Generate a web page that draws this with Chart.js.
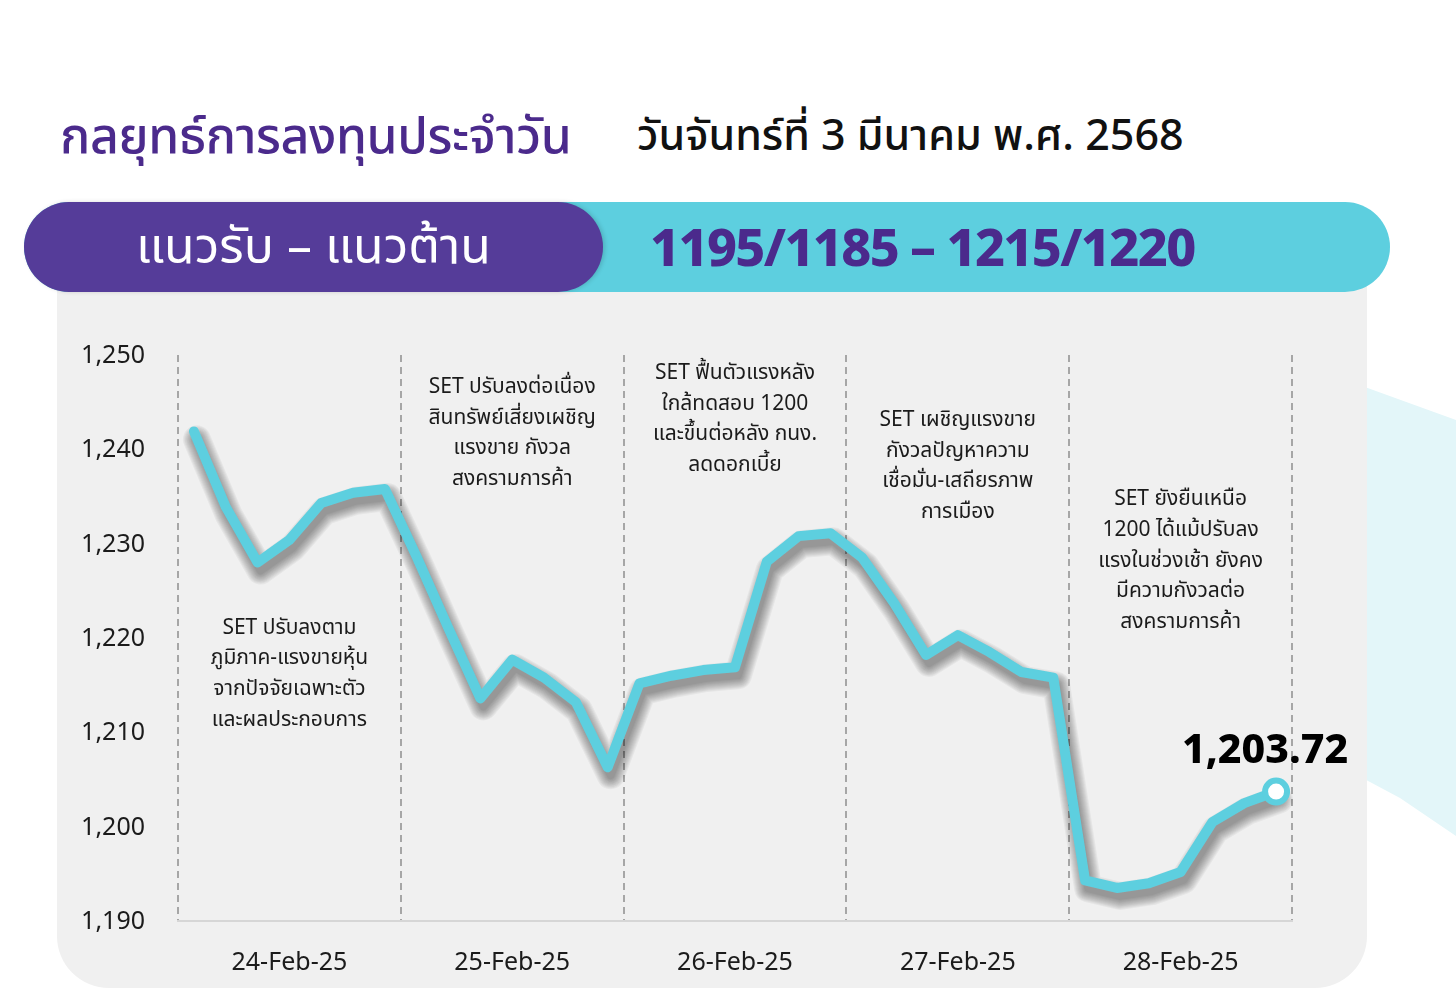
<!DOCTYPE html>
<html lang="th">
<head>
<meta charset="utf-8">
<title>กลยุทธ์การลงทุนประจำวัน</title>
<script src="https://cdn.jsdelivr.net/npm/chart.js@4.4.1/dist/chart.umd.min.js"></script>
<style>
  html, body { margin: 0; padding: 0; }
  body {
    width: 1456px; height: 1008px; position: relative; overflow: hidden;
    background: #ffffff;
    font-family: "Noto Sans Thai", "Noto Sans", "DejaVu Sans", sans-serif;
  }
  #deco {
    position: absolute; left: 1340px; top: 378px; width: 116px; height: 462px;
    background: #E3F6F9;
    clip-path: polygon(0 0, 116px 42px, 116px 458px, 60px 420px, 0 388px);
  }
  #title {
    position: absolute; left: 60px; top: 100px;
    font-size: 50px; color: #4B2A8C; font-weight: 500; white-space: nowrap;
    letter-spacing: -0.4px;
  }
  #date {
    position: absolute; left: 637px; top: 104px;
    font-size: 43px; color: #111; font-weight: 500; white-space: nowrap;
  }
  #panel {
    position: absolute; left: 57px; top: 250px; width: 1310px; height: 738px;
    background: #F0F0F0; border-radius: 0 0 52px 52px;
  }
  #banner {
    position: absolute; left: 24px; top: 202px; width: 1366px; height: 90px;
    background: #5DCFDF; border-radius: 45px;
  }
  #bannerLeft {
    position: absolute; left: 0; top: 0; width: 579px; height: 90px;
    background: #553C99; border-radius: 45px;
    color: #fff; font-size: 50px; line-height: 92px; text-align: center;
    box-shadow: 2px 0 4px rgba(0,0,0,0.15);
  }
  #bannerRight {
    position: absolute; left: 626px; top: 0; height: 90px;
    color: #4B2A8C; font-size: 52px; font-weight: 800; line-height: 96px;
    letter-spacing: -1.6px; white-space: nowrap;
  }
  #wrap { position: absolute; left: 57px; top: 300px; width: 1310px; height: 688px; }
</style>
</head>
<body>
<div id="deco"></div>
<div id="panel"></div>
<div id="banner">
  <div id="bannerLeft">แนวรับ – แนวต้าน</div>
  <div id="bannerRight">1195/1185 – 1215/1220</div>
</div>
<div id="title">กลยุทธ์การลงทุนประจำวัน</div>
<div id="date">วันจันทร์ที่ 3 มีนาคม พ.ศ. 2568</div>
<div id="wrap"><canvas id="setChart"></canvas></div>

<script>
// SET index, 7 readings per trading day
var days = ['24-Feb-25', '25-Feb-25', '26-Feb-25', '27-Feb-25', '28-Feb-25'];
var feb24 = [1241.9, 1233.9, 1228.0, 1230.4, 1234.3, 1235.4, 1235.8];
var feb25 = [1228.6, 1221.0, 1213.6, 1217.7, 1215.8, 1213.2, 1206.3];
var feb26 = [1215.2, 1216.0, 1216.6, 1216.9, 1228.1, 1230.8, 1231.1];
var feb27 = [1228.5, 1223.7, 1218.2, 1220.3, 1218.5, 1216.4, 1215.8];
var feb28 = [1194.3, 1193.5, 1194.0, 1195.2, 1200.5, 1202.5, 1203.72];
var yTicks = [1190, 1200, 1210, 1220, 1230, 1240, 1250];
var notes = [
    ['SET ปรับลงตาม', 'ภูมิภาค-แรงขายหุ้น', 'จากปัจจัยเฉพาะตัว', 'และผลประกอบการ'],
    ['SET ปรับลงต่อเนื่อง', 'สินทรัพย์เสี่ยงเผชิญ', 'แรงขาย กังวล', 'สงครามการค้า'],
    ['SET ฟื้นตัวแรงหลัง', 'ใกล้ทดสอบ 1200', 'และขึ้นต่อหลัง กนง.', 'ลดดอกเบี้ย'],
    ['SET เผชิญแรงขาย', 'กังวลปัญหาความ', 'เชื่อมั่น-เสถียรภาพ', 'การเมือง'],
    ['SET ยังยืนเหนือ', '1200 ได้แม้ปรับลง', 'แรงในช่วงเช้า ยังคง', 'มีความกังวลต่อ', 'สงครามการค้า']
];

var perDay = feb24.length;
var allValues = feb24.concat(feb25, feb26, feb27, feb28);
var points = allValues.map(function (v, i) { return { x: i + 0.5, y: v }; });
var lastIdx = points.length - 1;

var FONT = '"Noto Sans Thai", "Noto Sans", "DejaVu Sans", sans-serif';
var CYAN = '#5DCFDF';

// where each note's first line sits (in index units)
var noteTop = [1220.9, 1246.4, 1247.9, 1242.9, 1234.5];

// soft drop shadow under the line, built from the line's own point elements
var shadowPlugin = {
    id: 'lineShadow',
    beforeDatasetDraw: function (chart, args) {
        var c = chart.ctx;
        var pts = args.meta.data;
        c.save();
        c.lineJoin = 'round';
        c.lineCap = 'round';
        c.strokeStyle = 'rgba(0,0,0,0.045)';
        for (var w = 28; w >= 8; w -= 2) {
            c.lineWidth = w;
            c.beginPath();
            pts.forEach(function (p, i) {
                if (i === 0) c.moveTo(p.x + 3, p.y + 8);
                else c.lineTo(p.x + 3, p.y + 8);
            });
            c.stroke();
        }
        c.restore();
    }
};

var notesPlugin = {
    id: 'notes',
    afterDatasetsDraw: function (chart) {
        var c = chart.ctx;
        var xs = chart.scales.x, ys = chart.scales.y;
        c.save();
        c.fillStyle = '#1b1b1b';
        c.font = '21px ' + FONT;
        c.textAlign = 'center';
        c.textBaseline = 'middle';
        notes.forEach(function (lines, d) {
            var cx = xs.getPixelForValue(d * perDay + perDay / 2);
            var top = ys.getPixelForValue(noteTop[d]);
            lines.forEach(function (t, k) { c.fillText(t, cx, top + k * 30.6); });
        });
        // last close label
        var el = chart.getDatasetMeta(0).data[lastIdx];
        c.fillStyle = '#000';
        c.font = '800 41px ' + FONT;
        c.textBaseline = 'alphabetic';
        c.fillText(allValues[lastIdx].toLocaleString('en-US', { minimumFractionDigits: 2 }), el.x - 11, el.y - 29);
        c.restore();
    }
};

var ctx = document.getElementById('setChart').getContext('2d');
var setChart = new Chart(ctx, {
    type: 'line',
    data: {
        datasets: [{
            data: points,
            borderColor: CYAN,
            borderWidth: 10,
            borderJoinStyle: 'round',
            borderCapStyle: 'round',
            tension: 0,
            pointRadius: function (c) { return c.dataIndex === lastIdx ? 11 : 0; },
            pointBackgroundColor: '#ffffff',
            pointBorderColor: CYAN,
            pointBorderWidth: 6
        }]
    },
    plugins: [shadowPlugin, notesPlugin],
    options: {
        responsive: true,
        maintainAspectRatio: false,
        animation: false,
        layout: { padding: { left: 0, right: 75, top: 55, bottom: 0 } },
        plugins: { legend: { display: false }, tooltip: { enabled: false } },
        scales: {
            x: {
                type: 'linear',
                min: 0,
                max: days.length * perDay,
                afterBuildTicks: function (axis) {
                    var t = [];
                    for (var d = 0; d <= days.length; d++) {
                        t.push({ value: d * perDay });
                        if (d < days.length) t.push({ value: d * perDay + perDay / 2 });
                    }
                    axis.ticks = t;
                },
                afterFit: function (axis) { axis.height = 67; },
                ticks: {
                    autoSkip: false,
                    maxRotation: 0,
                    padding: 29,
                    color: '#1b1b1b',
                    font: { size: 25, family: FONT },
                    callback: function (v) {
                        return (v % perDay) === perDay / 2 ? days[Math.floor(v / perDay)] : '';
                    }
                },
                grid: {
                    drawTicks: false,
                    lineWidth: 2,
                    color: function (c) {
                        return c.tick && c.tick.value % perDay === 0 ? '#A6A6A6' : 'rgba(0,0,0,0)';
                    },
                    tickBorderDash: [6, 5]
                },
                border: { display: true, color: '#D6D6D6', width: 2, dash: [7, 5] }
            },
            y: {
                min: 1190,
                max: 1250,
                afterBuildTicks: function (axis) {
                    axis.ticks = yTicks.map(function (v) { return { value: v }; });
                },
                afterFit: function (axis) { axis.width = 121; },
                ticks: {
                    padding: 33,
                    labelOffset: 3,
                    color: '#1b1b1b',
                    font: { size: 25, family: FONT },
                    callback: function (v) { return v.toLocaleString('en-US'); }
                },
                grid: { display: false, drawTicks: false },
                border: { display: false }
            }
        }
    }
});
</script>
</body>
</html>
